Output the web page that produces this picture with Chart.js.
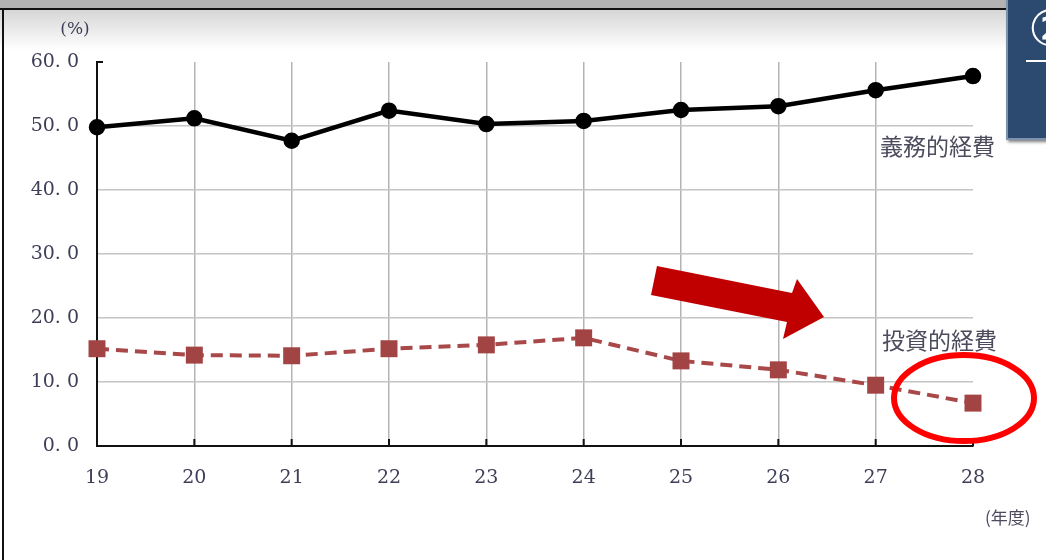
<!DOCTYPE html>
<html>
<head>
<meta charset="utf-8">
<script src="https://cdn.jsdelivr.net/npm/chart.js@4.4.1/dist/chart.umd.min.js"></script>
<style>
  html, body { margin: 0; padding: 0; background: #fff; overflow: hidden; }
  #wrap { position: relative; width: 1046px; height: 560px; }
  #band { position: absolute; left: 0; top: 0; width: 1046px; height: 8px; background: #b3b3b3; }
  #rule { position: absolute; left: 0; top: 8px; width: 1046px; height: 2px; background: #111; }
  #fade { position: absolute; left: 0; top: 10px; width: 1046px; height: 40px; background: linear-gradient(#d6d6d6, #ffffff); }
  #edge { position: absolute; left: 2px; top: 8px; width: 2px; height: 552px; background: #111; }
  #stockChart { position: absolute; left: 0; top: 0; }
  #panel { position: absolute; left: 1006px; top: -4px; width: 52px; height: 140px; background: #2c4a70;
           border: 2px solid #7d93ae; box-shadow: 2px 2px 3px rgba(0,0,0,0.5); z-index: 3; overflow: hidden; }
  #panel span { position: absolute; left: 20px; top: 2px; color: #fff; font: 50px "DejaVu Sans"; line-height: 58px; }
  #panel i { position: absolute; left: 18px; top: 62px; width: 40px; height: 2px; background: #fff; }
</style>
</head>
<body>
<div id="wrap">
  <div id="band"></div>
  <div id="fade"></div>
  <div id="rule"></div>
  <div id="edge"></div>
  <canvas id="stockChart" width="1046" height="560"></canvas>
  <div id="panel"><span>②</span><i></i></div>
</div>
<script>
// fiscal years (Heisei)
const years = ['19', '20', '21', '22', '23', '24', '25', '26', '27', '28'];
// 義務的経費 (%)
const mandatory = [49.8, 51.2, 47.7, 52.4, 50.3, 50.8, 52.5, 53.1, 55.6, 57.8];
// 投資的経費 (%)
const investment = [15.2, 14.2, 14.1, 15.2, 15.8, 16.9, 13.3, 11.9, 9.5, 6.7];
const yTickLabels = ['0. 0', '10. 0', '20. 0', '30. 0', '40. 0', '50. 0', '60. 0'];

const textColor = '#3e3e58';

// notes, arrow, ellipse and inward ticks
const decorations = {
    id: 'decorations',
    afterDraw(chart) {
        const c = chart.ctx;
        const x = chart.scales.x, y = chart.scales.y;
        const area = chart.chartArea;
        c.save();

        // inward tick marks
        c.strokeStyle = '#111';
        c.lineWidth = 2;
        years.forEach((lab, i) => {
            if (i === 0) return;
            const px = x.getPixelForValue(i);
            c.beginPath();
            c.moveTo(px, area.bottom);
            c.lineTo(px, area.bottom - 7);
            c.stroke();
        });
        c.beginPath();
        c.moveTo(area.left, area.top);
        c.lineTo(area.left + 6, area.top);
        c.stroke();

        // texts
        c.fillStyle = textColor;
        c.textBaseline = 'middle';
        c.textAlign = 'center';
        c.font = '17px "DejaVu Serif"';
        c.fillText('(%)', 75, 30);
        c.font = '23px "Noto Sans CJK JP"';
        c.fillStyle = '#4c4c5e';
        c.textAlign = 'left';
        c.fillText('義務的経費', 880, 146);
        c.fillText('投資的経費', 882, 340);
        c.font = '17px "Noto Sans CJK JP"';
        c.fillText('(年度)', 985, 518);

        // red arrow
        c.fillStyle = '#c00000';
        c.beginPath();
        c.moveTo(657, 266);
        c.lineTo(792, 293);
        c.lineTo(797, 279);
        c.lineTo(824, 317);
        c.lineTo(783, 339);
        c.lineTo(787, 322);
        c.lineTo(651, 295);
        c.closePath();
        c.fill();

        // ellipse round the last point
        const lx = x.getPixelForValue(years.length - 1);
        const ly = y.getPixelForValue(investment[investment.length - 1]);
        c.strokeStyle = '#ff0000';
        c.lineWidth = 6;
        c.beginPath();
        c.ellipse(lx - 9, ly - 5, 70, 43, 0, 0, Math.PI * 2);
        c.stroke();

        c.restore();
    }
};

const ctx = document.getElementById('stockChart').getContext('2d');

const chart = new Chart(ctx, {
    type: 'line',
    data: {
        labels: years,
        datasets: [{
            label: '義務的経費',
            data: mandatory,
            borderColor: '#000',
            backgroundColor: '#000',
            borderWidth: 4.5,
            pointRadius: 6,
            pointStyle: 'circle',
            tension: 0
        }, {
            label: '投資的経費',
            data: investment,
            borderColor: '#a84848',
            backgroundColor: '#a34444',
            borderWidth: 4,
            borderDash: [12, 7],
            pointRadius: 12,
            pointStyle: 'rect',
            pointBorderWidth: 0,
            tension: 0
        }]
    },
    options: {
        responsive: false,
        animation: false,
        layout: { padding: { left: 0, top: 62, right: 73, bottom: 0 } },
        plugins: {
            legend: { display: false },
            tooltip: { enabled: false }
        },
        scales: {
            x: {
                offset: false,
                afterFit: s => { s.height = 114; },
                grid: {
                    color: c => (c.index === years.length - 1 ? 'rgba(0,0,0,0)' : '#b4b4b4'),
                    lineWidth: 1.5,
                    drawTicks: false
                },
                border: { color: '#111', width: 2 },
                ticks: {
                    padding: 21,
                    maxRotation: 0,
                    color: textColor,
                    font: { family: 'DejaVu Serif', size: 19 }
                }
            },
            y: {
                min: 0,
                max: 60,
                afterFit: s => { s.width = 97; },
                grid: {
                    color: c => (c.tick.value === 0 || c.tick.value === 60 ? 'rgba(0,0,0,0)' : '#c4c4c4'),
                    lineWidth: 1.5,
                    drawTicks: false
                },
                border: { color: '#111', width: 2 },
                ticks: {
                    stepSize: 10,
                    padding: 18,
                    color: textColor,
                    font: { family: 'DejaVu Serif', size: 19 },
                    callback: v => yTickLabels[v / 10]
                }
            }
        }
    },
    plugins: [decorations]
});
</script>
</body>
</html>
